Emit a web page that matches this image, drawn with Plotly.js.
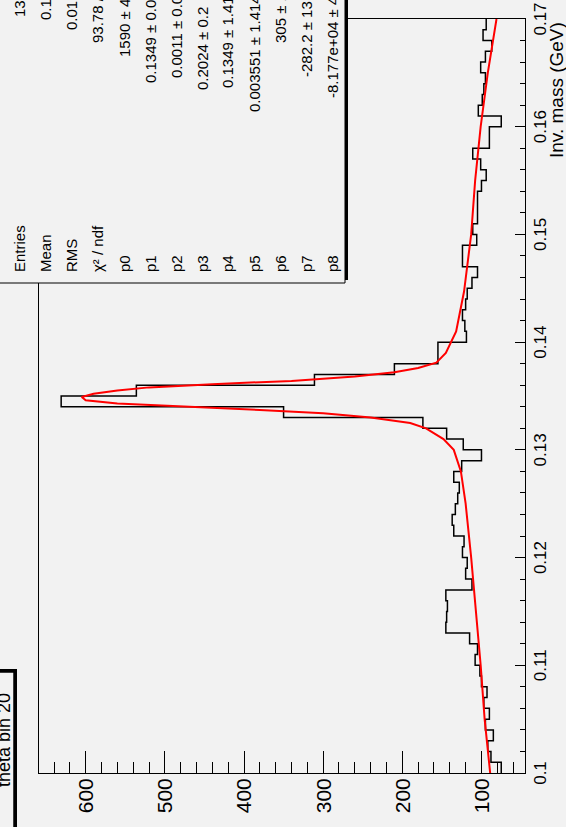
<!DOCTYPE html>
<html>
<head>
<meta charset="utf-8">
<script src="https://cdn.plot.ly/plotly-3.0.1.min.js"></script>
<style>
html, body { margin:0; padding:0; overflow:hidden; background:#f2f2f2; width:566px; height:827px; }
#plot { position:absolute; left:0; top:0; width:827px; height:566px;
        transform-origin:0 0; transform: translate(0px, 827px) rotate(-90deg); }
</style>
</head>
<body>
<div id="plot"></div>
<script>
// ---- data ----
const binStart = 0.1;
const binWidth = 0.001;
const counts = [75, 88, 92, 85, 95, 90, 97, 93, 100, 102,
                108, 105, 115, 145, 144, 143, 145, 112, 120, 118,
                124, 122, 135, 137, 133, 130, 128, 135, 125, 100,
                123, 144, 174, 350, 631, 536, 311, 210, 155, 155,
                119, 121, 124, 120, 118, 112, 105, 124, 124, 106,
                111, 105, 105, 105, 100, 94, 101, 111, 90, 90,
                75, 104, 99, 97, 95, 101, 95, 87, 98, 94];
const fitX = [0.100, 0.105, 0.110, 0.115, 0.120, 0.125, 0.128, 0.130, 0.131, 0.132,
              0.1325, 0.133, 0.1334, 0.1337, 0.1340, 0.1343, 0.1346, 0.1349, 0.1352, 0.1355,
              0.1358, 0.1361, 0.1364, 0.1368, 0.1372, 0.1376, 0.1381, 0.139, 0.141, 0.1447,
              0.150, 0.155, 0.160, 0.165, 0.170];
const fitY = [89, 96, 101, 107, 113, 120, 126, 135, 148, 170,
              190, 240, 300, 380, 470, 560, 600, 605, 590, 560,
              520, 440, 340, 260, 210, 180, 157, 145, 132, 122,
              113, 108, 101, 92, 81];
const xTickVals = [0.1, 0.11, 0.12, 0.13, 0.14, 0.15, 0.16, 0.17];
const xTickText = ["0.1", "0.11", "0.12", "0.13", "0.14", "0.15", "0.16", "0.17"];
const yTickVals = [100, 200, 300, 400, 500, 600];
const yTickText = ["100", "200", "300", "400", "500", "600"];
const statLabels = ["Entries", "Mean", "RMS", "\u03c7\u00b2 / ndf", "p0", "p1", "p2", "p3", "p4", "p5", "p6", "p7", "p8"];
const statValues = ["13725", "0.1362", "0.01934", "93.78 / 61", "1590 \u00b1 44.2", "0.1349 \u00b1 0.0000",
                    "0.0011 \u00b1 0.0000", "0.2024 \u00b1 0.2", "0.1349 \u00b1 1.414", "0.003551 \u00b1 1.414",
                    "305 \u00b1 13.2", "-282.2 \u00b1 13.2", "-8.177e+04 \u00b1 4.1"];
const titleText = "theta bin 20";
const xTitle = "Inv. mass (GeV)";

// ---- geometry (original, unrotated frame) ----
const W = 827, H = 566;
const M = {l:54, r:19, t:39, b:41};
const pw = W - M.l - M.r, ph = H - M.t - M.b;
const px = ox => (ox - M.l) / pw;
const py = oy => (H - M.b - oy) / ph;

// histogram outline from bin edges
const hx = [], hy = [];
for (let i = 0; i < counts.length; i++) { hx.push(binStart + i * binWidth); hy.push(counts[i]); }
hx.push(binStart + counts.length * binWidth); hy.push(counts[counts.length - 1]);

const FONT = "Liberation Sans, Arial, Helvetica, sans-serif";
const traces = [
  {x: hx, y: hy, type:'scatter', mode:'lines', line:{shape:'hv', color:'#000', width:1.5}, hoverinfo:'skip'},
  {x: fitX, y: fitY, type:'scatter', mode:'lines', line:{color:'#ff0000', width:2}, hoverinfo:'skip'}
];

const shapes = [];
const annotations = [];
// stats box (shadow + box)
const sb = {x0:544, x1:850, y0:-20, y1:345};
shapes.push({type:'rect', xref:'paper', yref:'paper', layer:'above',
  x0:px(sb.x0+3), x1:px(sb.x1+3), y0:py(sb.y1+3), y1:py(sb.y0+3), fillcolor:'#000', line:{width:0}});
shapes.push({type:'rect', xref:'paper', yref:'paper', layer:'above',
  x0:px(sb.x0), x1:px(sb.x1), y0:py(sb.y1), y1:py(sb.y0), fillcolor:'#f2f2f2', line:{color:'#000', width:1}});
const valStart = [808, 805, 795, 782, 768, 742, 747, 735, 737, 713, 782, 748, 727];
for (let i = 0; i < statLabels.length; i++) {
  const oy = 20 + 26 * i;
  annotations.push({xref:'paper', yref:'paper', x:px(553), y:py(oy), xanchor:'left', yanchor:'middle',
    text:statLabels[i], showarrow:false, font:{family:FONT, size:15, color:'#000'}});
  annotations.push({xref:'paper', yref:'paper', x:px(valStart[i]), y:py(oy), xanchor:'left', yanchor:'middle',
    text:statValues[i], showarrow:false, font:{family:FONT, size:15, color:'#000'}});
}
// title box
shapes.push({type:'rect', xref:'paper', yref:'paper', layer:'above',
  x0:px(-10+3), x1:px(155+3), y0:py(14+3), y1:py(-10+3), fillcolor:'#000', line:{width:0}});
shapes.push({type:'rect', xref:'paper', yref:'paper', layer:'above',
  x0:px(-10), x1:px(155), y0:py(14), y1:py(-10), fillcolor:'#f2f2f2', line:{color:'#000', width:1.5}});
annotations.push({xref:'paper', yref:'paper', x:px(136), y:py(4), xanchor:'right', yanchor:'middle',
  text:titleText, showarrow:false, font:{family:FONT, size:18, color:'#000'}});
// x axis title
annotations.push({xref:'paper', yref:'paper', x:px(807), y:py(556), xanchor:'right', yanchor:'middle',
  text:xTitle, showarrow:false, font:{family:FONT, size:19, color:'#000'}});

const layout = {
  width:W, height:H, margin:M,
  paper_bgcolor:'#f2f2f2', plot_bgcolor:'#f2f2f2',
  showlegend:false,
  xaxis:{range:[0.1, 0.17], tickmode:'array', tickvals:xTickVals, ticktext:xTickText,
    ticks:'inside', ticklen:10, tickwidth:1, tickcolor:'#000',
    minor:{tickmode:'linear', tick0:0.1, dtick:0.002, ticks:'inside', ticklen:5, tickwidth:1, tickcolor:'#000', showgrid:false},
    showline:true, linecolor:'#000', linewidth:1, mirror:true, showgrid:false, zeroline:false,
    tickfont:{family:FONT, size:17, color:'#000'}},
  yaxis:{range:[45, 659], tickmode:'array', tickvals:yTickVals, ticktext:yTickText,
    ticks:'inside', ticklen:22, tickwidth:1, tickcolor:'#000',
    minor:{tickmode:'linear', tick0:0, dtick:20, ticks:'inside', ticklen:11, tickwidth:1, tickcolor:'#000', showgrid:false},
    showline:true, linecolor:'#000', linewidth:1, mirror:true, showgrid:false, zeroline:false,
    tickfont:{family:FONT, size:21, color:'#000'}},
  shapes:shapes, annotations:annotations
};
Plotly.newPlot('plot', traces, layout, {staticPlot:true, displayModeBar:false});
</script>
</body>
</html>
